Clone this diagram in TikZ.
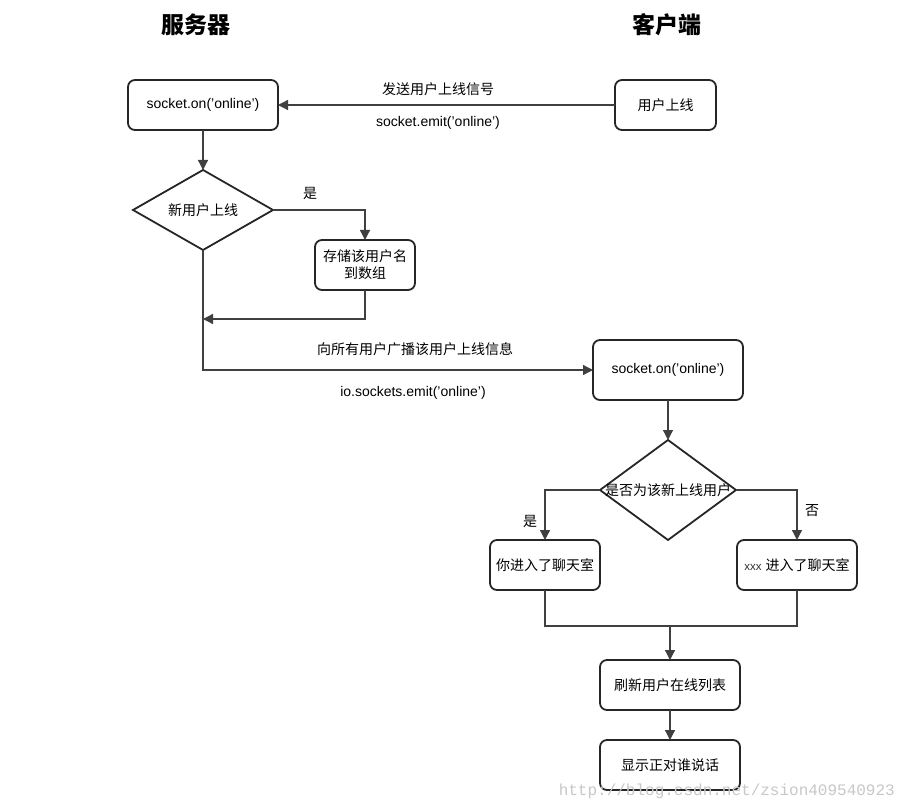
\documentclass[tikz,border=0pt]{standalone}
\usepackage{fontspec}
\setmainfont{Liberation Sans}
\newfontfamily\cjk{Noto Sans CJK SC}
\newfontfamily\wmfont{Liberation Mono}
\usetikzlibrary{arrows.meta,shapes.geometric}
\tikzset{
  box/.style={draw=black!85, line width=1.8pt, rounded corners=7pt, fill=white,
    inner sep=0pt, outer sep=0pt, align=center, font=\fontsize{14}{17}\selectfont},
  dia/.style={draw=black!85, line width=1.8pt, shape=diamond, inner sep=0pt, outer sep=0pt},
  conn/.style={draw=black!75, line width=1.3pt},
  arr/.style={conn, -{Triangle[length=10pt,width=10pt]}},
  lbl/.style={font=\fontsize{14}{17}\selectfont, inner sep=0pt},
  ttl/.style={font=\fontsize{23}{26}\selectfont\cjk\bfseries, inner sep=0pt}
}
\begin{document}
\begin{tikzpicture}[x=1pt,y=-1pt]
\useasboundingbox (0,0) rectangle (905,810);
% titles
\node[ttl] (t1) at (196,25) {服务器};
\node[ttl] (t2) at (667,25) {客户端};
% nodes
\node[box, minimum width=150pt, minimum height=50pt] (A) at (203,105) {socket.on('online')};
\node[box, minimum width=101pt, minimum height=50pt] (B) at (665.5,105) {\cjk 用户上线};
\node[dia, minimum width=140pt, minimum height=80pt] (D1) at (203,210) {};
\node[lbl] (D1t) at (D1) {\cjk 新用户上线};
\node[box, minimum width=100pt, minimum height=50pt] (C) at (365,265) {\cjk 存储该用户名\\\cjk 到数组};
\node[box, minimum width=150pt, minimum height=60pt] (E) at (668,370) {socket.on('online')};
\node[dia, minimum width=136pt, minimum height=100pt] (D2) at (668,490) {};
\node[lbl] (D2t) at (D2) {\cjk 是否为该新上线用户};
\node[box, minimum width=110pt, minimum height=50pt] (F) at (545,565) {\cjk 你进入了聊天室};
\node[box, minimum width=120pt, minimum height=50pt] (G) at (797,565) {{\fontsize{11.5}{13}\selectfont\color{black!80}xxx} {\cjk 进入了聊天室}};
\node[box, minimum width=140pt, minimum height=50pt] (H) at (670,685) {\cjk 刷新用户在线列表};
\node[box, minimum width=140pt, minimum height=50pt] (I) at (670,765) {\cjk 显示正对谁说话};
% connectors
\draw[arr] (B.west) -- (A.east);
\draw[arr] (A.south) -- (D1.north);
\draw[arr] (D1.east) -| (C.north);
\coordinate (j1) at (203,319);
\draw[arr] (C.south) |- (j1);
\draw[arr] (D1.south) |- (E.west);
\draw[arr] (E.south) -- (D2.north);
\draw[arr] (D2.west) -| (F.north);
\draw[arr] (D2.east) -| (G.north);
\coordinate (m) at (670,626);
\draw[conn] (F.south) |- (m) -| (G.south);
\draw[arr] (m) -- (H.north);
\draw[arr] (H.south) -- (I.north);
% labels
\node[lbl] (l1) at (438,89) {\cjk 发送用户上线信号};
\node[lbl] (l2) at (438,123) {socket.emit('online')};
\node[lbl] (l3) at (310,193) {\cjk 是};
\node[lbl] (l4) at (415,349) {\cjk 向所有用户广播该用户上线信息};
\node[lbl] (l5) at (413,393) {io.sockets.emit('online')};
\node[lbl] (l6) at (530,521) {\cjk 是};
\node[lbl] (l7) at (812,511) {\cjk 否};
% watermark
\node[inner sep=0pt, anchor=east, text=black!22, font=\fontsize{16}{18}\wmfont] (wm) at (895,791) {http://blog.csdn.net/zsion409540923};
\end{tikzpicture}
\end{document}
